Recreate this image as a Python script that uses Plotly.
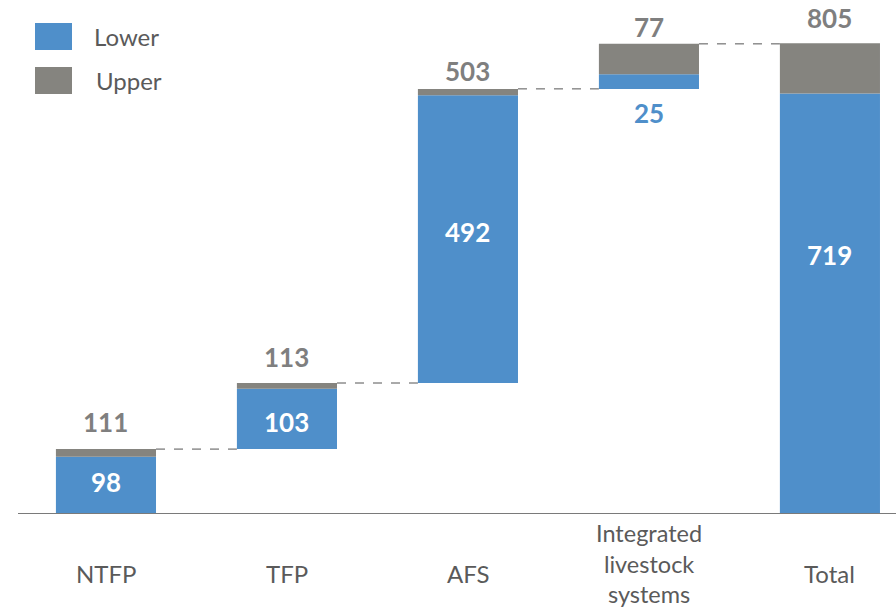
import plotly.graph_objects as go

categories = ["NTFP", "TFP", "AFS", "Integrated livestock systems", "Total"]
tick_text = ["NTFP", "TFP", "AFS", "Integrated<br>livestock<br>systems", "Total"]
lower = [98, 103, 492, 25, 719]
upper = [111, 113, 503, 77, 805]

BLUE = "#4f8fca"
GRAY = "#85847f"
TEXT_GRAY = "#7f7f7f"
AXIS_TEXT = "#5a5a5a"
FONT = "Lato"

# label nudges (pixels) for the value labels
upper_shift = [5, 4, -4, -5, 3]
lower_shift = [3, -3, 7, 0, 49]

# waterfall bases: each step starts where the previous upper estimate ended
bases = []
running = 0
for i, u in enumerate(upper):
    if i == len(upper) - 1:
        bases.append(0)
    else:
        bases.append(running)
        running += u

x = list(range(len(categories)))
width = 0.553

fig = go.Figure()
fig.add_trace(go.Bar(
    x=x, y=lower, base=bases, width=width, marker_color=BLUE,
    marker_line_width=0, name="Lower", showlegend=False, hoverinfo="skip"))
fig.add_trace(go.Bar(
    x=x, y=[u - l for u, l in zip(upper, lower)],
    base=[b + l for b, l in zip(bases, lower)], width=width,
    marker_color=GRAY, marker_line_width=0, name="Upper",
    showlegend=False, hoverinfo="skip"))

shapes = []
annotations = []

# dashed connectors between consecutive bar tops
for i in range(len(categories) - 1):
    top = bases[i] + upper[i]
    shapes.append(dict(type="line", xref="x", yref="y",
                       x0=i + width / 2, x1=i + 1 - width / 2, y0=top, y1=top,
                       line=dict(color="#555555", width=1, dash="dash")))

for i in range(len(categories)):
    top = bases[i] + upper[i]
    annotations.append(dict(x=i, y=top, xref="x", yref="y", text=str(upper[i]),
                            showarrow=False, yanchor="bottom", yshift=4 + upper_shift[i],
                            font=dict(family=FONT, size=26, color=TEXT_GRAY, weight="bold")))
    if lower[i] < 60:
        annotations.append(dict(x=i, y=bases[i], xref="x", yref="y", text=str(lower[i]),
                                showarrow=False, yanchor="top", yshift=-6,
                                font=dict(family=FONT, size=26, color=BLUE, weight="bold")))
    else:
        annotations.append(dict(x=i, y=bases[i] + lower[i] / 2, xref="x", yref="y",
                                text=str(lower[i]), showarrow=False, yanchor="middle",
                                yshift=lower_shift[i],
                                font=dict(family=FONT, size=26, color="white", weight="bold")))
    # category labels under the axis
    if "<br>" in tick_text[i]:
        annotations.append(dict(x=i, y=-0.0068, xref="x", yref="paper", text=tick_text[i],
                                showarrow=False, yanchor="top",
                                font=dict(family=FONT, size=23.5, color=AXIS_TEXT)))
    else:
        annotations.append(dict(x=i, y=-0.1148, xref="x", yref="paper", text=tick_text[i],
                                showarrow=False, yanchor="middle",
                                font=dict(family=FONT, size=24, color=AXIS_TEXT)))

# legend swatches
legend_items = [("Lower", BLUE, 23, 50, 92), ("Upper", GRAY, 67, 94, 94)]
for label, color, y0, y1, tx in legend_items:
    shapes.append(dict(type="rect", xref="paper", yref="paper",
                       x0=(35 - 18) / 878, x1=(72 - 18) / 878,
                       y0=1 - y1 / 514, y1=1 - y0 / 514,
                       fillcolor=color, line_width=0))
    annotations.append(dict(x=(tx - 18) / 878, y=1 - ((y0 + y1) / 2) / 514,
                            xref="paper", yref="paper", text=label, showarrow=False,
                            xanchor="left", yanchor="middle",
                            font=dict(family=FONT, size=24, color=AXIS_TEXT)))

fig.update_layout(
    width=896, height=611,
    margin=dict(l=18, r=0, t=0, b=97),
    plot_bgcolor="white", paper_bgcolor="white",
    barmode="overlay",
    shapes=shapes, annotations=annotations,
    xaxis=dict(range=[-0.486, 4.365], showticklabels=False, showgrid=False,
               zeroline=False, showline=False, ticks=""),
    yaxis=dict(range=[0, 879], visible=False, showgrid=False, zeroline=False),
)
# baseline
fig.add_shape(type="line", xref="paper", yref="y", x0=0, x1=1, y0=0, y1=0,
              line=dict(color="#7a7a7a", width=2))

fig.write_html("out.html")
